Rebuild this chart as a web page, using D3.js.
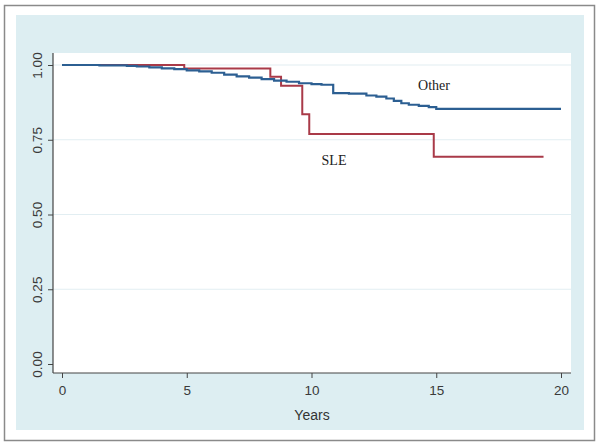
<!DOCTYPE html>
<html><head><meta charset="utf-8">
<script src="https://cdn.jsdelivr.net/npm/d3@7"></script>
<style>html,body{margin:0;padding:0;background:#fff;}svg{display:block;}</style>
</head><body>
<script>
// Data
const xTicks = [0, 5, 10, 15, 20];
const yTicks = [0, 0.25, 0.5, 0.75, 1];
const yTickLabels = ["0.00", "0.25", "0.50", "0.75", "1.00"];
const otherTimes = [0, 1.5, 2.6, 3.0, 3.5, 4.0, 4.5, 5.0, 5.5, 6.0, 6.5, 7.0, 7.5, 8.0, 8.5, 9.0, 9.5, 10.0, 10.4, 10.87, 11.5, 12.2, 12.6, 13.0, 13.3, 13.6, 13.9, 14.3, 14.7, 15.0];
const otherSurv = [1.0, 0.999, 0.997, 0.995, 0.992, 0.989, 0.986, 0.982, 0.979, 0.974, 0.968, 0.962, 0.958, 0.953, 0.948, 0.944, 0.939, 0.936, 0.934, 0.906, 0.904, 0.898, 0.894, 0.888, 0.880, 0.872, 0.867, 0.863, 0.859, 0.853];
const otherEnd = 20.0;
const sleTimes = [0, 4.9, 8.35, 8.78, 9.63, 9.91, 14.9];
const sleSurv = [1.0, 0.988, 0.961, 0.931, 0.835, 0.769, 0.693];
const sleEnd = 19.3;
const seriesNames = ["Other", "SLE"];

const W = 600, H = 446;
const svg = d3.select("body").append("svg").attr("width", W).attr("height", H);

// outer frame & panel
svg.append("rect").attr("x", 4.5).attr("y", 5.5).attr("width", 590).attr("height", 435)
  .attr("fill", "#fff").attr("stroke", "#8a8a8a").attr("stroke-width", 1.5);
svg.append("rect").attr("x", 16).attr("y", 15).attr("width", 568).attr("height", 415).attr("fill", "#ddeef2");

const plot = {x0: 53, x1: 571, y0: 53, y1: 373};
svg.append("rect").attr("x", plot.x0).attr("y", plot.y0).attr("width", plot.x1 - plot.x0).attr("height", plot.y1 - plot.y0).attr("fill", "#fff");

const x = d3.scaleLinear().domain([0, 20]).range([62, 561]);
const y = d3.scaleLinear().domain([0, 1]).range([364, 65]);

// gridlines
svg.append("g").selectAll("line").data(yTicks.filter(d => d > 0)).join("line")
  .attr("x1", plot.x0).attr("x2", plot.x1)
  .attr("y1", d => y(d)).attr("y2", d => y(d))
  .attr("stroke", "#e2eef2").attr("stroke-width", 1.2);

// axes
const xAxis = svg.append("g").attr("transform", `translate(0,${plot.y1})`)
  .call(d3.axisBottom(x).tickValues(xTicks).tickSize(5).tickPadding(7).tickFormat(d3.format("d")));
const yAxis = svg.append("g").attr("transform", `translate(${plot.x0},0)`)
  .call(d3.axisLeft(y).tickValues(yTicks).tickSize(5).tickPadding(4).tickFormat((d, i) => yTickLabels[i]));
[xAxis, yAxis].forEach(g => {
  g.select(".domain").remove();
  g.selectAll("line").attr("stroke", "#444");
  g.selectAll("text").attr("fill", "#3a3a3a").style("font-family", "'Liberation Sans', Arial, sans-serif").style("font-size", "13.5px");
});
yAxis.selectAll("text")
  .attr("transform", "rotate(-90)")
  .attr("x", 0).attr("y", -11).attr("dy", "0")
  .attr("text-anchor", "middle");
// axis lines
svg.append("line").attr("x1", plot.x0).attr("x2", plot.x0).attr("y1", plot.y0).attr("y2", plot.y1).attr("stroke", "#444").attr("stroke-width", 1.2);
svg.append("line").attr("x1", plot.x0).attr("x2", plot.x1).attr("y1", plot.y1).attr("y2", plot.y1).attr("stroke", "#444").attr("stroke-width", 1.2);

svg.append("text").attr("x", 312).attr("y", 420).attr("text-anchor", "middle")
  .style("font-family", "'Liberation Sans', Arial, sans-serif").style("font-size", "14px").attr("fill", "#333").text("Years");

// KM step curves
function pts(times, surv, end) {
  const p = times.map((t, i) => [t, surv[i]]);
  p.push([end, surv[surv.length - 1]]);
  return p;
}
const line = d3.line().x(d => x(d[0])).y(d => y(d[1])).curve(d3.curveStepAfter);
svg.append("path").datum(pts(sleTimes, sleSurv, sleEnd)).attr("d", line)
  .attr("fill", "none").attr("stroke", "#a93a48").attr("stroke-width", 2);
svg.append("path").datum(pts(otherTimes, otherSurv, otherEnd)).attr("d", line)
  .attr("fill", "none").attr("stroke", "#2c5f92").attr("stroke-width", 2.2);

// labels
svg.append("text").attr("x", 434).attr("y", 90).attr("text-anchor", "middle")
  .style("font-family", "'Liberation Serif', 'Times New Roman', serif").style("font-size", "14px").attr("fill", "#222").text(seriesNames[0]);
svg.append("text").attr("x", 334).attr("y", 165).attr("text-anchor", "middle")
  .style("font-family", "'Liberation Serif', 'Times New Roman', serif").style("font-size", "14px").attr("fill", "#222").text(seriesNames[1]);
</script>
</body></html>
